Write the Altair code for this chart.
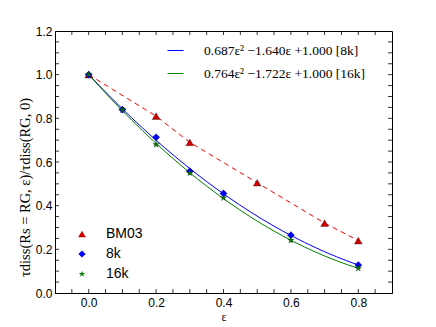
import altair as alt
import pandas as pd

# ---- data ----
eps_bm03 = [0.0, 0.2, 0.3, 0.5, 0.7, 0.8]
val_bm03 = [1.0, 0.81, 0.69, 0.505, 0.32, 0.24]

eps_8k = [0.0, 0.1, 0.2, 0.3, 0.4, 0.6, 0.8]
val_8k = [1.0, 0.84, 0.713, 0.558, 0.456, 0.265, 0.128]

eps_16k = [0.0, 0.1, 0.2, 0.3, 0.4, 0.6, 0.8]
val_16k = [1.0, 0.838, 0.68, 0.55, 0.436, 0.241, 0.113]

series_names = ["BM03", "8k", "16k"]
fit_labels = ["0.687\u03b5\u00b2 \u22121.640\u03b5 +1.000 [8k]",
              "0.764\u03b5\u00b2 \u22121.722\u03b5 +1.000 [16k]"]

x_label_vals = [0.0, 0.2, 0.4, 0.6, 0.8]
y_label_vals = [0.0, 0.2, 0.4, 0.6, 0.8, 1.0, 1.2]
x_tick_vals = [-0.05, 0.0, 0.05, 0.1, 0.15, 0.2, 0.25, 0.3, 0.35, 0.4, 0.45,
               0.5, 0.55, 0.6, 0.65, 0.7, 0.75, 0.8, 0.85]
y_tick_vals = [0.05, 0.1, 0.15, 0.2, 0.25, 0.3, 0.35, 0.4, 0.45, 0.5, 0.55,
               0.6, 0.65, 0.7, 0.75, 0.8, 0.85, 0.9, 0.95, 1.0, 1.05, 1.1, 1.15]

# ---- tables ----
pts = pd.DataFrame(
    [{"series": "BM03", "eps": e, "val": v} for e, v in zip(eps_bm03, val_bm03)]
    + [{"series": "8k", "eps": e, "val": v} for e, v in zip(eps_8k, val_8k)]
    + [{"series": "16k", "eps": e, "val": v} for e, v in zip(eps_16k, val_16k)]
)
fits = pd.DataFrame(
    [{"fit": fit_labels[0], "eps": e, "val": v} for e, v in zip(eps_8k, val_8k)]
    + [{"fit": fit_labels[1], "eps": e, "val": v} for e, v in zip(eps_16k, val_16k)]
)
bm = pts[pts.series == "BM03"]
xt = pd.DataFrame({"t": x_tick_vals})
yt = pd.DataFrame({"t": y_tick_vals})

W, H = 337, 262
xscale = alt.Scale(domain=[-0.1, 0.9], nice=False, zero=False)
yscale = alt.Scale(domain=[0.0, 1.2], nice=False)

xaxis = alt.Axis(values=x_label_vals, format=".1f", ticks=False, grid=False,
                 title="\u03b5", titleFont="Liberation Serif", titleFontSize=12,
                 titleFontWeight="normal", titleBaseline="alphabetic",
                 titleY=27, labelPadding=4)
yaxis = alt.Axis(values=y_label_vals, format=".1f", ticks=False, grid=False,
                 title="\u03c4diss(Rs = RG, \u03b5)/\u03c4diss(RG, 0)",
                 titleFont="Liberation Serif", titleFontSize=14.5,
                 titleFontWeight="normal", titleX=-23, titleY=156,
                 labelPadding=3)

star = ("M0,-1L0.2245,-0.309L0.951,-0.309L0.363,0.118L0.588,0.809L0,0.382"
        "L-0.588,0.809L-0.363,0.118L-0.951,-0.309L-0.2245,-0.309Z")

pt_legend = alt.Legend(orient="none", legendX=20, legendY=196, title=None,
                       labelFont="Liberation Sans", labelFontSize=14,
                       labelOffset=17, rowPadding=6, symbolStrokeWidth=0)

fit_layer = alt.Chart(fits).transform_regression(
    "eps", "val", method="poly", order=2, groupby=["fit"], extent=[0.0, 0.8]
).mark_line(strokeWidth=1).encode(
    x=alt.X("eps:Q", scale=xscale, axis=xaxis),
    y=alt.Y("val:Q", scale=yscale, axis=yaxis),
    stroke=alt.Stroke("fit:N", scale=alt.Scale(domain=fit_labels,
                                               range=["#0000ff", "#008000"]),
                      legend=alt.Legend(orient="none", legendX=112, legendY=11,
                                        title=None, symbolType="stroke",
                                        symbolSize=256, symbolStrokeWidth=1,
                                        labelFont="Liberation Serif",
                                        labelFontSize=13.5, labelOffset=20,
                                        rowPadding=8, labelLimit=400)),
)

bm_line = alt.Chart(bm).mark_line(color="#ff0000", strokeWidth=1,
                                  strokeDash=[5, 4]).encode(
    x=alt.X("eps:Q", scale=xscale), y=alt.Y("val:Q", scale=yscale))

pt_layer = alt.Chart(pts).mark_point(filled=True, opacity=1, stroke="#000000",
                                     strokeWidth=0.3).encode(
    x=alt.X("eps:Q", scale=xscale),
    y=alt.Y("val:Q", scale=yscale),
    shape=alt.Shape("series:N", scale=alt.Scale(domain=series_names,
                                                range=["triangle-up", "diamond", star]),
                    legend=pt_legend),
    fill=alt.Fill("series:N", scale=alt.Scale(domain=series_names,
                                              range=["#cc0000", "#0000ff", "#008000"]),
                  legend=pt_legend),
    size=alt.Size("series:N", scale=alt.Scale(domain=series_names,
                                              range=[60, 45, 36]),
                  legend=pt_legend),
)

tick_len = 4
xb = alt.Chart(xt).mark_rule(color="black", strokeWidth=0.8).encode(
    x=alt.X("t:Q", scale=xscale), y=alt.value(H), y2=alt.value(H - tick_len))
xtop = alt.Chart(xt).mark_rule(color="black", strokeWidth=0.8).encode(
    x=alt.X("t:Q", scale=xscale), y=alt.value(0), y2=alt.value(tick_len))
yl = alt.Chart(yt).mark_rule(color="black", strokeWidth=0.8).encode(
    y=alt.Y("t:Q", scale=yscale), x=alt.value(0), x2=alt.value(tick_len))
yr = alt.Chart(yt).mark_rule(color="black", strokeWidth=0.8).encode(
    y=alt.Y("t:Q", scale=yscale), x=alt.value(W), x2=alt.value(W - tick_len))

chart = alt.layer(fit_layer, bm_line, pt_layer, xb, xtop, yl, yr).properties(
    width=W, height=H,
    autosize=alt.AutoSizeParams(type="none"),
    padding={"left": 47, "top": 23, "right": 12, "bottom": 31},
).configure_view(stroke="black", strokeWidth=1).configure_axis(
    domainColor="black", domainWidth=1, labelFont="Liberation Sans",
    labelFontSize=12, labelColor="black", titleColor="black",
).configure_legend(padding=0)

chart.save("out.html", embed_options={"renderer": "svg", "actions": False})
